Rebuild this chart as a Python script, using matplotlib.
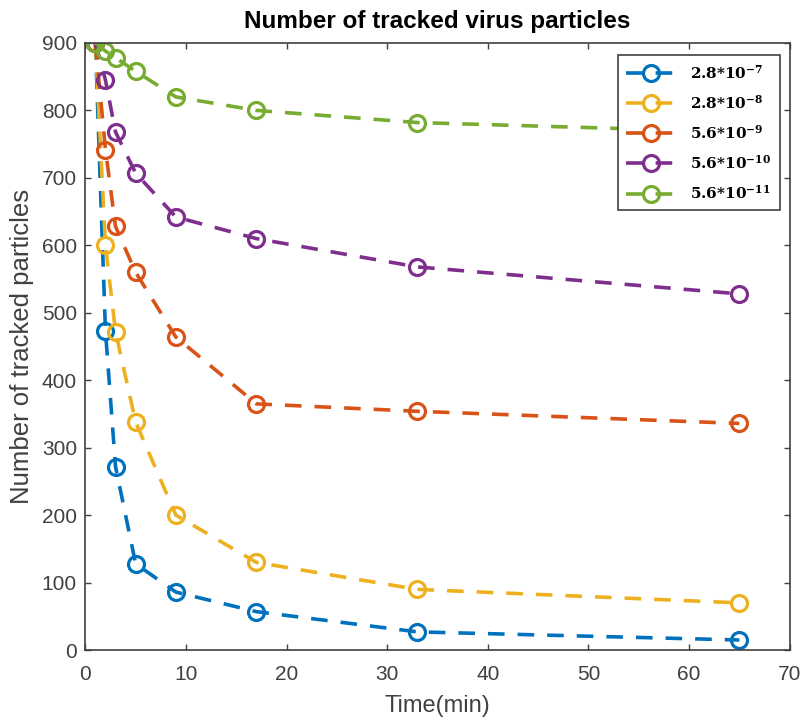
import matplotlib.pyplot as plt

# Sampling times (min) and tracked particle counts per concentration
time_min = [1, 2, 3, 5, 9, 17, 33, 65]

counts_28e7 = [900, 473, 272, 128, 86, 57, 27, 15]
counts_28e8 = [900, 600, 472, 338, 200, 130, 90, 70]
counts_56e9 = [900, 742, 628, 560, 464, 365, 354, 336]
counts_56e10 = [900, 845, 768, 707, 642, 610, 568, 528]
counts_56e11 = [900, 888, 878, 858, 820, 800, 782, 768]

labels = [r'$\mathbf{2.8{*}10^{-7}}$', r'$\mathbf{2.8{*}10^{-8}}$',
          r'$\mathbf{5.6{*}10^{-9}}$', r'$\mathbf{5.6{*}10^{-10}}$',
          r'$\mathbf{5.6{*}10^{-11}}$']
colors = ['#0072BD', '#EDB120', '#D95319', '#7E2F8E', '#77AC30']

plt.rcParams['font.family'] = ['Liberation Sans', 'DejaVu Sans']
plt.rcParams['mathtext.fontset'] = 'dejavuserif'

fig = plt.figure(figsize=(8.05, 7.28), dpi=100)
ax = fig.add_axes([0.106, 0.107, 0.875, 0.834])

series = [counts_28e7, counts_28e8, counts_56e9, counts_56e10, counts_56e11]
for counts, label, color in zip(series, labels, colors):
    ax.plot(time_min, counts, linestyle=(0, (4.6, 3.6)), color=color,
            linewidth=2.6, marker='o', markersize=11.5,
            markerfacecolor='none', markeredgewidth=2.3, label=label)

ax.set_xlim(0, 70)
ax.set_ylim(0, 900)
ax.set_xticks(range(0, 71, 10))
ax.set_yticks(range(0, 901, 100))
ax.tick_params(direction='in', top=True, right=True, length=4.5, width=1,
               labelsize=15, colors='#404040', labelcolor='#404040', pad=6)
ax.tick_params(axis='x', pad=11)
for spine in ax.spines.values():
    spine.set_color('#404040')
    spine.set_linewidth(1.2)

ax.set_xlabel('Time(min)', fontsize=17, color='#404040', labelpad=8)
ax.set_ylabel('Number of tracked particles', fontsize=18.5, color='#404040',
              labelpad=6)
ax.set_title('Number of tracked virus particles', fontsize=17.5,
             fontweight='bold', pad=11)

leg = ax.legend(loc='upper right', bbox_to_anchor=(0.986, 0.980),
                borderaxespad=0, fontsize=11, handlelength=3.3,
                handletextpad=0.9, labelspacing=0.8, borderpad=0.55,
                fancybox=False, framealpha=1, edgecolor='#404040')
leg.get_frame().set_linewidth(1.2)

fig.savefig('out.png', dpi=100)
